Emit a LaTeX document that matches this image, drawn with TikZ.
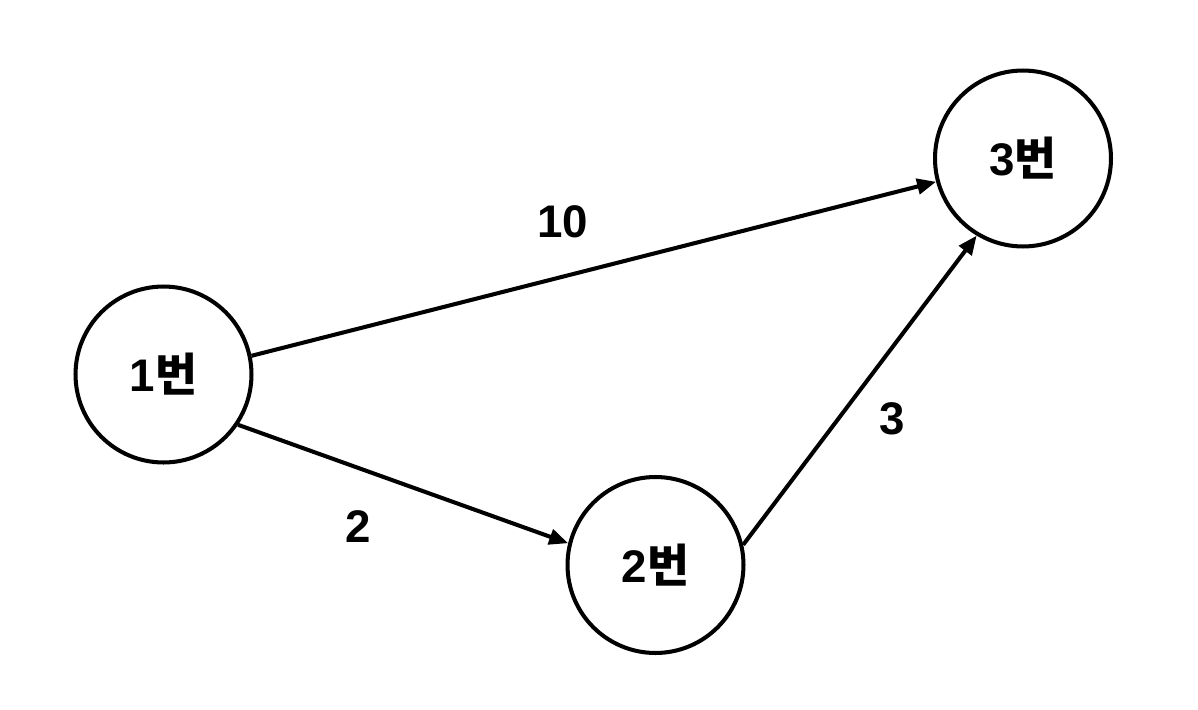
\documentclass[tikz,border=0pt]{standalone}
\usepackage{fontspec}
\setmainfont{Liberation Sans}
\newfontfamily\krfont{Noto Sans CJK KR}
\usetikzlibrary{arrows.meta}

\begin{document}
\begin{tikzpicture}[x=0.02cm, y=-0.02cm]
    \tikzstyle{vertex} = [circle, draw, line width=2.3pt, minimum size=3.52cm, inner sep=0pt, font=\fontsize{26}{30}\selectfont\bfseries]
    \tikzstyle{edge} = [line width=2.3pt, -{Triangle[length=3.8mm, width=3.1mm]}]
    \tikzstyle{weight} = [font=\fontsize{26}{30}\selectfont\bfseries, inner sep=0pt]
    \useasboundingbox (0,0) rectangle (1198,710);
    \node[vertex] (v1) at (163.5, 374.5) {1{\krfont\bfseries 번}};
    \node[vertex] (v2) at (655.5, 565) {2{\krfont\bfseries 번}};
    \node[vertex] (v3) at (1023, 158.5) {3{\krfont\bfseries 번}};
    \draw[edge] (v1.12) -- (v3.195);
    \draw[edge] (v1.-34) -- (v2.166);
    \draw[edge] (v2.13) -- (v3.239);
    \node[weight] (w13) at (563, 221.5) {10};
    \node[weight] (w12) at (358, 527) {2};
    \node[weight] (w23) at (892, 419) {3};
\end{tikzpicture}
\end{document}
